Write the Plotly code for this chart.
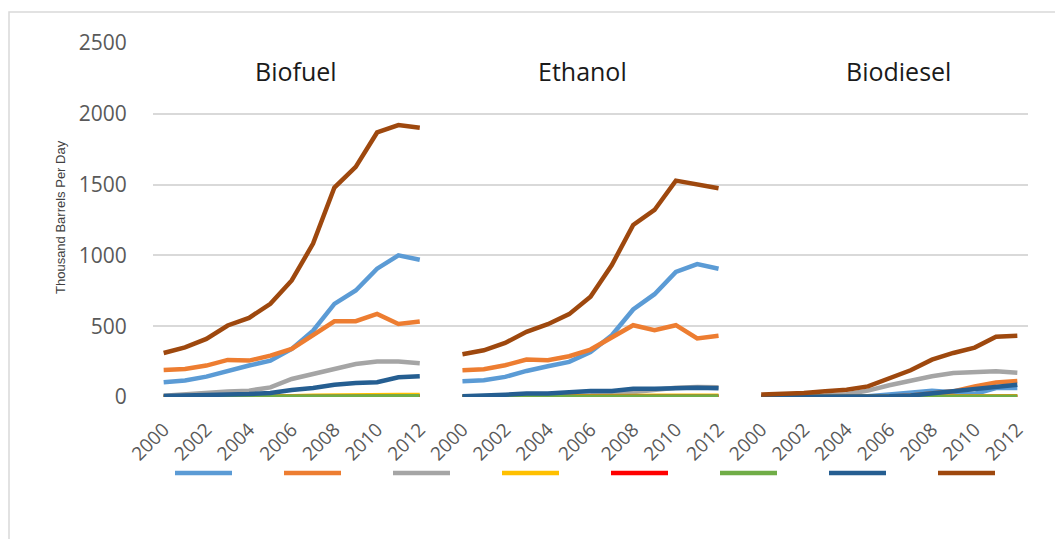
import plotly.graph_objects as go

years = list(range(2000, 2013))
panel_names = ["Biofuel", "Ethanol", "Biodiesel"]

# Series colours (legend order)
series_colors = ["#5B9BD5", "#ED7D31", "#A5A5A5", "#FFC000", "#FF0000", "#70AD47", "#255E91", "#9E480E"]

# Biofuel panel
biofuel_lightblue = [104, 116, 144, 186, 222, 257, 340, 469, 658, 752, 906, 1000, 969]
biofuel_orange    = [191, 198, 222, 262, 257, 292, 340, 434, 535, 535, 587, 516, 533]
biofuel_gray      = [9, 21, 28, 38, 45, 68, 127, 163, 198, 233, 250, 250, 238]
biofuel_yellow    = [0, 0, 0, 0, 1, 3, 6, 9, 12, 14, 15, 15, 15]
biofuel_red       = [0, 0, 0, 0, 0, 0, 0, 1, 1, 1, 1, 1, 1]
biofuel_green     = [0, 0, 0, 0, 0, 1, 2, 3, 4, 4, 5, 5, 5]
biofuel_darkblue  = [7, 9, 14, 19, 21, 28, 50, 64, 87, 99, 104, 139, 146]
biofuel_brown     = [311, 351, 410, 505, 559, 658, 823, 1083, 1479, 1625, 1868, 1920, 1901]

# Ethanol panel
ethanol_lightblue = [111, 118, 142, 184, 217, 248, 318, 436, 618, 726, 884, 939, 906]
ethanol_orange    = [189, 196, 224, 264, 259, 288, 335, 425, 507, 472, 507, 413, 432]
ethanol_gray      = [2, 3, 4, 5, 6, 8, 12, 20, 35, 50, 65, 70, 68]
ethanol_yellow    = [0, 0, 0, 0, 1, 2, 3, 5, 7, 8, 9, 9, 9]
ethanol_red       = [0, 0, 0, 0, 0, 0, 0, 0, 1, 1, 1, 1, 1]
ethanol_green     = [0, 0, 0, 0, 0, 1, 1, 2, 2, 3, 3, 3, 3]
ethanol_darkblue  = [5, 7, 16, 24, 24, 33, 42, 42, 59, 59, 64, 66, 61]
ethanol_brown     = [302, 330, 382, 460, 514, 585, 708, 932, 1215, 1321, 1528, 1498, 1474]

# Biodiesel panel
biodiesel_lightblue = [0, 0, 0, 1, 2, 6, 17, 32, 44, 33, 22, 63, 64]
biodiesel_orange    = [0, 0, 0, 0, 0, 1, 3, 10, 25, 40, 75, 103, 113]
biodiesel_gray      = [1, 2, 5, 10, 20, 45, 83, 118, 146, 170, 179, 182, 172]
biodiesel_yellow    = [0, 0, 0, 0, 0, 1, 3, 4, 5, 6, 6, 6, 6]
biodiesel_red       = [0, 0, 0, 0, 0, 0, 0, 0, 0, 0, 0, 0, 0]
biodiesel_green     = [0, 0, 0, 0, 0, 0, 1, 1, 2, 2, 2, 2, 2]
biodiesel_darkblue  = [0, 0, 0, 1, 2, 3, 5, 10, 24, 42, 57, 71, 87]
biodiesel_brown     = [17, 19, 28, 40, 52, 75, 130, 189, 264, 311, 349, 425, 432]

panels = [
    [biofuel_lightblue, biofuel_orange, biofuel_gray, biofuel_yellow,
     biofuel_red, biofuel_green, biofuel_darkblue, biofuel_brown],
    [ethanol_lightblue, ethanol_orange, ethanol_gray, ethanol_yellow,
     ethanol_red, ethanol_green, ethanol_darkblue, ethanol_brown],
    [biodiesel_lightblue, biodiesel_orange, biodiesel_gray, biodiesel_yellow,
     biodiesel_red, biodiesel_green, biodiesel_darkblue, biodiesel_brown],
]

n = len(years)
step = n + 1  # one blank category between panels


def xpos(p):
    return [p * step + i for i in range(n)]


fig = go.Figure()
for s, color in enumerate(series_colors):
    for p, panel in enumerate(panels):
        fig.add_trace(go.Scatter(
            x=xpos(p), y=panel[s], mode="lines",
            line=dict(color=color, width=4.5),
            name=" ", legendgroup=f"s{s}", showlegend=(p == 0),
            customdata=years,
            hovertemplate=panel_names[p] + " %{customdata}: %{y}<extra></extra>",
        ))

tickvals, ticktext = [], []
for p in range(len(panels)):
    for i, yr in enumerate(years):
        if i % 2 == 0:
            tickvals.append(p * step + i)
            ticktext.append(str(yr))

# The page body has an 8px margin; target coordinates are in screenshot pixels.
OFF = 8
W, H = 1063 - OFF, 539 - OFF
PL, PR, PT, PB = 153, 1028, 43, 397          # plot area in screenshot pixels
L, R, T, B = PL - OFF, W - (PR - OFF), PT - OFF, H - (PB - OFF)
pw = W - L - R
ph = H - T - B


def px_x(v):
    return (v - PL) / pw


def px_y(v):
    return (PB - v) / ph


xtick_font = dict(family="Open Sans, sans-serif", size=19, color="#595959")
ytick_font = dict(family="Open Sans, sans-serif", size=21, color="#595959")

fig.update_layout(
    width=W, height=H,
    margin=dict(l=L, r=R, t=T, b=B, autoexpand=False),
    plot_bgcolor="white", paper_bgcolor="white",
    xaxis=dict(
        range=[-0.5, len(panels) * step - 1 - 0.5],
        tickmode="array", tickvals=tickvals, ticktext=ticktext,
        tickangle=-45, tickfont=xtick_font,
        showgrid=False, zeroline=False, showline=False,
        ticks="outside", ticklen=13, tickcolor="rgba(0,0,0,0)",
    ),
    yaxis=dict(
        range=[0, 2500], tickvals=[0, 500, 1000, 1500, 2000, 2500],
        tickfont=ytick_font,
        showgrid=True, gridcolor="#D9D9D9", gridwidth=1.5,
        zeroline=False, showline=False,
        ticks="outside", ticklen=21, tickcolor="rgba(0,0,0,0)",
    ),
    showlegend=True,
    legend=dict(
        orientation="h", x=px_x(170), xanchor="left",
        y=px_y(473), yanchor="middle",
        itemwidth=57,
        entrywidth=37, entrywidthmode="pixels",
        font=dict(size=12), bgcolor="rgba(0,0,0,0)",
        traceorder="normal",
    ),
    shapes=[dict(
        type="rect", xref="paper", yref="paper",
        x0=px_x(9), x1=px_x(1075), y0=px_y(12), y1=px_y(560),
        line=dict(color="#D9D9D9", width=1.5), layer="below",
    )],
)

title_font = dict(family="Open Sans, sans-serif", size=25, color="#1a1a1a")
for name, cx in zip(panel_names, [296, 582, 898]):
    fig.add_annotation(text=name, xref="paper", yref="paper",
                       x=px_x(cx), y=px_y(71), showarrow=False,
                       xanchor="center", yanchor="middle", font=title_font)

fig.add_annotation(text="Thousand Barrels Per Day", xref="paper", yref="paper",
                   x=px_x(60), y=px_y(217), showarrow=False, textangle=-90,
                   xanchor="center", yanchor="middle",
                   font=dict(family="Liberation Sans Narrow, Arial Narrow, sans-serif",
                             size=13, color="#404040"))

fig.write_html("out.html")
